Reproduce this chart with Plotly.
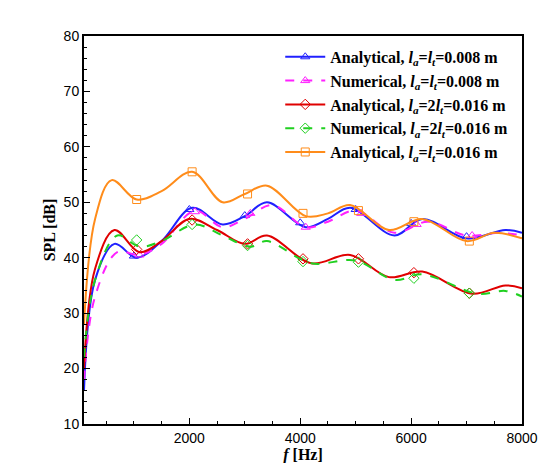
import plotly.graph_objects as go

# courbes (f en Hz, SPL en dB)
f_blue = [100, 300, 650, 1050, 1500, 2050, 2600, 3000, 3400, 4100, 4500, 4900, 5700, 6200, 7000, 7700, 8000]
spl_blue = [16, 36, 42.5, 40, 43, 49, 46, 47.5, 50, 45.5, 47, 49, 44, 47, 43.5, 45, 44.5]
f_mag = [100, 300, 700, 1100, 1500, 2100, 2600, 3000, 3500, 4100, 4500, 5000, 5700, 6300, 7000, 7600, 8000]
spl_mag = [18, 33, 41, 40.5, 42.5, 48.5, 45.5, 47, 49.5, 45.5, 46.5, 48.5, 44.5, 46.5, 44, 44.5, 44]
f_red = [100, 300, 650, 1100, 1500, 2000, 2500, 3000, 3400, 4200, 4900, 5600, 6200, 7100, 7700, 8000]
spl_red = [20, 38, 45, 41, 43, 47, 45, 42.5, 44, 39, 40.5, 36.5, 37.5, 33.5, 35, 34.5]
f_green = [100, 300, 700, 1100, 1500, 2100, 2600, 3100, 3400, 4200, 5000, 5700, 6200, 7200, 7700, 8000]
spl_green = [22, 36, 44, 42, 43, 46, 44, 42, 43, 39, 39.5, 36, 37, 33.5, 34, 33]
f_orange = [100, 300, 600, 1050, 1500, 2050, 2600, 3000, 3400, 4100, 4500, 4900, 5600, 6200, 7000, 7500, 8000]
spl_orange = [28, 47, 54, 50.5, 52, 55.5, 50, 51.5, 53, 47.5, 48, 49.5, 45, 47, 43, 44.5, 43.5]

# marqueurs
fm_blue = [1000, 2000, 3000, 4000, 5000, 6000, 7000]
sm_blue = [40.3, 48.7, 47.6, 46.3, 48.7, 46.2, 43.8]
fm_mag = [1100, 2100, 3100, 4100, 5100, 6100, 7100]
sm_mag = [40.5, 48.3, 48, 45.5, 48, 46, 44]
fm_red = [1050, 2050, 3050, 4050, 5050, 6050, 7050]
sm_red = [41.5, 46.8, 42.5, 39.8, 39.8, 37.3, 33.6]
fm_green = [1050, 2050, 3050, 4050, 5050, 6050, 7050]
sm_green = [43.2, 46, 42.2, 39.3, 39.2, 36.3, 33.6]
fm_orange = [1050, 2050, 3050, 4050, 5050, 6050, 7050]
sm_orange = [50.5, 55.5, 51.5, 48, 48.5, 46.5, 43]

lab_008 = "<i>l</i><sub><i>a</i></sub>=<i>l</i><sub><i>t</i></sub>=0.008 m"
lab_2l = "<i>l</i><sub><i>a</i></sub>=2<i>l</i><sub><i>t</i></sub>=0.016 m"
lab_016 = "<i>l</i><sub><i>a</i></sub>=<i>l</i><sub><i>t</i></sub>=0.016 m"

series = [
    ("Analytical, " + lab_008, f_blue, spl_blue, fm_blue, sm_blue, "#2020ff", "solid", "triangle-up-open"),
    ("Numerical, " + lab_008, f_mag, spl_mag, fm_mag, sm_mag, "#ff20ff", "dash", "triangle-up-open"),
    ("Analytical, " + lab_2l, f_red, spl_red, fm_red, sm_red, "#e00000", "solid", "diamond-open"),
    ("Numerical, " + lab_2l, f_green, spl_green, fm_green, sm_green, "#20d020", "dash", "diamond-open"),
    ("Analytical, " + lab_016, f_orange, spl_orange, fm_orange, sm_orange, "#ff8c1a", "solid", "square-open"),
]

fig = go.Figure()
for name, fx, fy, mx, my, col, dash, sym in series:
    fig.add_trace(go.Scatter(x=fx, y=fy, mode="lines", showlegend=False,
                             line=dict(color=col, width=2, dash=dash, shape="spline", smoothing=1)))
    fig.add_trace(go.Scatter(x=mx, y=my, mode="markers", showlegend=False,
                             marker=dict(symbol=sym, size=8, color=col)))
    fig.add_trace(go.Scatter(x=[None], y=[None], mode="lines+markers", name="<b>" + name + "</b>",
                             line=dict(color=col, width=2, dash=dash),
                             marker=dict(symbol=sym, size=8, color=col)))

axis_common = dict(showline=True, linecolor="black", linewidth=2, mirror=True,
                   ticks="inside", tickcolor="black", ticklen=6, showgrid=False, zeroline=False,
                   tickfont=dict(family="Arial", size=14, color="black"),
                   minor=dict(ticks="inside", ticklen=3, tickcolor="black"))

fig.update_layout(
    width=550, height=463,
    margin=dict(l=76, r=36, t=28, b=35),
    plot_bgcolor="white", paper_bgcolor="white",
    xaxis=dict(range=[100, 8000], tickvals=[2000, 4000, 6000, 8000], dtick=2000,
               title=dict(text="<b><i>f</i> [Hz]</b>", standoff=2,
                          font=dict(family="Liberation Serif", size=16, color="black")),
               **axis_common),
    yaxis=dict(range=[10, 80], dtick=10,
               title=dict(text="<b>SPL [dB]</b>", standoff=4,
                          font=dict(family="Liberation Serif", size=16, color="black")),
               **axis_common),
    legend=dict(x=0.98, y=0.99, xanchor="right", yanchor="top", bgcolor="rgba(255,255,255,0)",
                font=dict(family="Liberation Serif", size=16, color="black"),
                tracegroupgap=0, itemwidth=40),
)
fig.update_xaxes(minor=dict(dtick=500))
fig.update_yaxes(minor=dict(dtick=2))

fig.write_html("out.html")
